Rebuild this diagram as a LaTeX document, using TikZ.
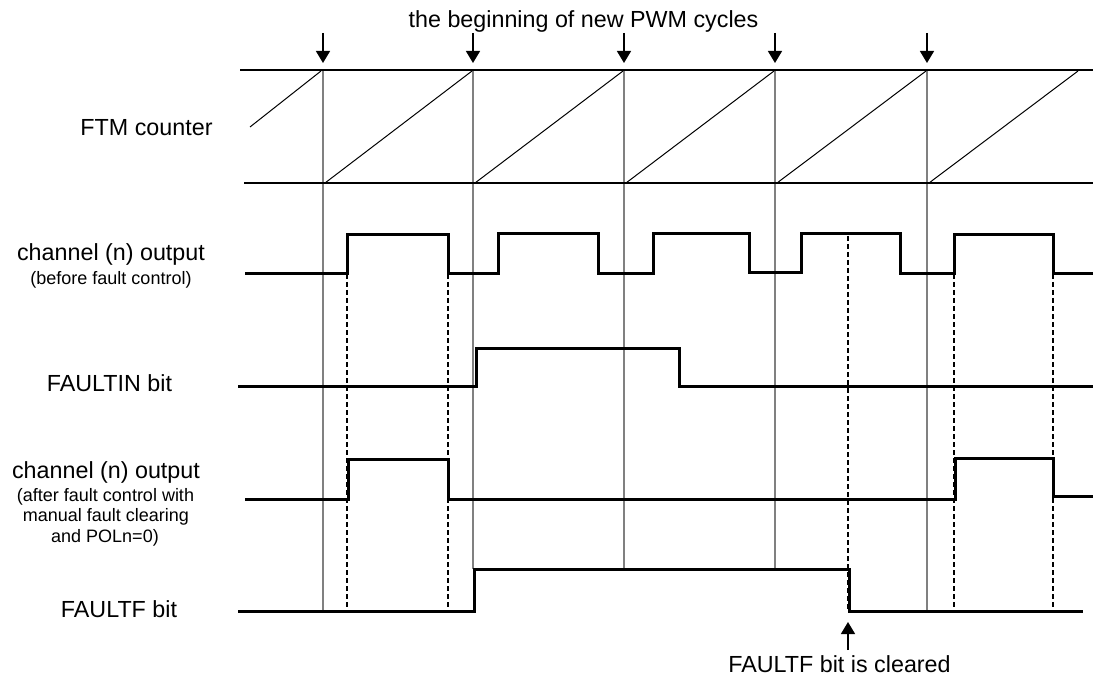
\documentclass[tikz,border=0pt]{standalone}
\usepackage{fontspec}
\setmainfont{Liberation Sans}
\usetikzlibrary{arrows.meta}
\begin{document}
\begin{tikzpicture}[x=1pt,y=-1pt,
 sig/.style={line width=3pt,line join=miter},
 gridln/.style={draw=black!50,line width=1.4pt},
 frameln/.style={line width=2.4pt},
 rampln/.style={line width=1pt},
 dashln/.style={line width=1.3pt,dash pattern=on 5pt off 3pt},
 arr/.style={line width=1.3pt,-{Triangle[width=14pt,length=12pt]}},
 lbl/.style={font=\fontsize{23.3}{28}\selectfont,anchor=base,inner sep=0pt},
 sml/.style={font=\fontsize{18}{21}\selectfont,anchor=base,inner sep=0pt}]
\useasboundingbox (0,0) rectangle (1093,679);
% cycle grid lines
\foreach \x/\e in {323/611,473/569,624/569,775/569,927/611}
  \draw[gridln] (\x,70) -- (\x,\e);
% counter frame and ramps
\draw[frameln] (240,70) -- (1093,70);
\draw[frameln] (244,183) -- (1093,183);
\draw[rampln] (250,127) -- (321,71);
\foreach \a/\b in {325/472,475/623,626/774,777/926,929/1078}
  \draw[rampln] (\a,183) -- (\b,71);
% dashed guides
\foreach \x/\s in {347/274,448/274,848/236,954/274,1053/274}
  \draw[dashln] (\x,\s) -- (\x,611);
% channel before fault control
\draw[sig] (245,274) -- (347,274) -- (347,235) -- (448,235) -- (448,274) -- (498,274)
  -- (498,234) -- (598,234) -- (598,274) -- (653,274) -- (653,234) -- (749,234)
  -- (749,273) -- (801,273) -- (801,234) -- (900,234) -- (900,274) -- (954,274)
  -- (954,235) -- (1053,235) -- (1053,274) -- (1093,274);
% FAULTIN
\draw[sig] (238,386) -- (476,386) -- (476,348) -- (679,348) -- (679,386) -- (1093,386);
% channel after fault control
\draw[sig] (245,499) -- (348,499) -- (348,459) -- (448,459) -- (448,499) -- (955,499)
  -- (955,458) -- (1053,458) -- (1053,496) -- (1093,496);
% FAULTF
\draw[sig] (238,611) -- (474,611) -- (474,569) -- (849,569) -- (849,611) -- (1083,611);
% top arrows and title
\node[lbl] (title) at (583.5,28) {the beginning of new PWM cycles};
\foreach \x [count=\i] in {323,473,624,775,927}{
  \coordinate (s\i) at (\x,33);
  \coordinate (t\i) at (\x,63);
  \draw[arr] (s\i) -- (t\i);
}
% bottom arrow and label
\coordinate (cs) at (848,650);
\coordinate (ct) at (848,622);
\draw[arr] (cs) -- (ct);
\node[lbl] (clr) at (839.5,672) {FAULTF bit is cleared};
% left labels
\node[lbl] (ftm) at (146.5,136) {FTM counter};
\node[lbl] (chb) at (111,261) {channel (n) output};
\node[sml] (chbs) at (111,284) {(before fault control)};
\node[lbl] (fin) at (109.5,391) {FAULTIN bit};
\node[lbl] (cha) at (106,478) {channel (n) output};
\node[sml] (chas1) at (105.5,501) {(after fault control with};
\node[sml] (chas2) at (106,521) {manual fault clearing};
\node[sml] (chas3) at (105,542) {and POLn=0)};
\node[lbl] (ff) at (119,617) {FAULTF bit};
\end{tikzpicture}
\end{document}
